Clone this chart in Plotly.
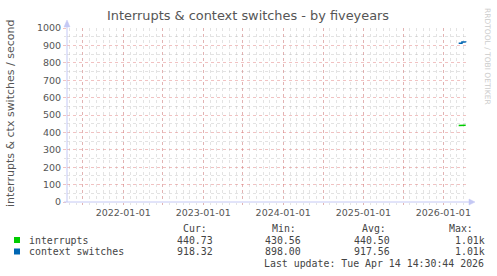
import plotly.graph_objects as go

# ---- data ----
int_dates = ["2026-03-12", "2026-03-20", "2026-03-28", "2026-04-05", "2026-04-13"]
int_values = [439.0, 440.0, 441.0, 440.0, 440.7]
ctx_dates = ["2026-03-12", "2026-03-20", "2026-03-27", "2026-04-05", "2026-04-13"]
ctx_values = [912.0, 913.0, 919.0, 920.0, 918.3]

series_names = ["interrupts", "context switches"]
series_colors = ["#00CC00", "#0066B3"]
cur_vals = ["440.73", "918.32"]
min_vals = ["430.56", "898.00"]
avg_vals = ["440.50", "917.56"]
max_vals = ["1.01k", "1.01k"]

x_tickvals = ["2021-07-01", "2022-01-01", "2022-07-01", "2023-01-01", "2023-07-01",
              "2024-01-01", "2024-07-01", "2025-01-01", "2025-07-01", "2026-01-01"]
x_ticktext = ["", "2022-01-01", "", "2023-01-01", "", "2024-01-01", "", "2025-01-01", "", "2026-01-01"]
x_range = ["2021-04-19", "2026-04-19"]
y_range = [0, 1000]

title = "Interrupts & context switches - by fiveyears"
y_title = "interrupts & ctx switches / second"
last_update = "Last update: Tue Apr 14 14:30:44 2026"
watermark = "RRDTOOL / TOBI OETIKER"

# ---- layout geometry (pixels) ----
W, H = 497, 276
L, R, T, B = 67, 467, 28, 202


def px(x):
    return (x - L) / (R - L)


def py(y):
    return (B - y) / (B - T)


fig = go.Figure()
fig.add_trace(go.Scatter(x=int_dates, y=int_values, mode="lines",
                         line=dict(color=series_colors[0], width=1.5), name=series_names[0]))
fig.add_trace(go.Scatter(x=ctx_dates, y=ctx_values, mode="lines", line_shape="hv",
                         line=dict(color=series_colors[1], width=1.5), name=series_names[1]))

MAJ = "rgba(225,120,120,0.45)"
MIN = "rgba(175,175,175,0.35)"
AX = "#c4c8f4"
TXT = "#555555"

fig.update_layout(
    width=W, height=H,
    margin=dict(l=L, r=W - R, t=T, b=H - B),
    paper_bgcolor="white", plot_bgcolor="white",
    showlegend=False,
    font=dict(family="DejaVu Sans", size=9.5, color=TXT),
    xaxis=dict(
        type="date", range=x_range, tickvals=x_tickvals, ticktext=x_ticktext,
        showgrid=True, gridcolor=MAJ, griddash="dot", gridwidth=1,
        ticks="outside", ticklen=2, tickcolor=MAJ,
        minor=dict(dtick="M1", tick0="2021-01-01", showgrid=True, gridcolor=MIN,
                   griddash="dot", gridwidth=1, ticks="outside", ticklen=2, tickcolor=MIN),
        showline=False, zeroline=False,
        tickfont=dict(size=9.5, color=TXT, family="DejaVu Sans"),
        fixedrange=True,
    ),
    yaxis=dict(
        range=y_range, dtick=100, tick0=0,
        showgrid=True, gridcolor=MAJ, griddash="dot", gridwidth=1,
        ticks="outside", ticklen=3, tickcolor=MAJ,
        minor=dict(dtick=50, showgrid=True, gridcolor=MIN, griddash="dot", gridwidth=1,
                   ticks="outside", ticklen=2, tickcolor=MIN),
        showline=False, zeroline=False,
        tickfont=dict(size=9.5, color=TXT, family="DejaVu Sans"),
        fixedrange=True,
    ),
)

shapes = []
# axis lines
shapes.append(dict(type="line", xref="paper", yref="paper", x0=px(L), x1=px(L), y0=py(B), y1=py(22),
                   line=dict(color=AX, width=1)))
shapes.append(dict(type="line", xref="paper", yref="paper", x0=px(L - 3), x1=px(472), y0=py(B), y1=py(B),
                   line=dict(color=AX, width=1)))


def tri(points):
    d = "M " + " L ".join(f"{px(a)},{py(b)}" for a, b in points) + " Z"
    return dict(type="path", xref="paper", yref="paper", path=d,
                fillcolor=AX, line=dict(color=AX, width=0.5))


shapes.append(tri([(64, 27), (70, 27), (67, 20)]))
shapes.append(tri([(469, B - 3), (469, B + 3), (475, B)]))

ann = []
ann.append(dict(text=title, x=px(248), y=py(15), xref="paper", yref="paper", showarrow=False,
                xanchor="center", yanchor="middle", font=dict(size=12.9, color=TXT, family="DejaVu Sans")))
ann.append(dict(text=y_title, x=px(11), y=py(114), xref="paper", yref="paper", showarrow=False,
                textangle=-90, xanchor="center", yanchor="middle",
                font=dict(size=11, color=TXT, family="DejaVu Sans")))
ann.append(dict(text=watermark, x=px(488), y=py(56), xref="paper", yref="paper", showarrow=False,
                textangle=90, xanchor="center", yanchor="middle",
                font=dict(size=7.5, color="#cccccc", family="DejaVu Sans")))

MONO = "DejaVu Sans Mono"
LT = "#444444"
FS = 9.9


def txt(s, x, y):
    ann.append(dict(text=s, x=px(x), y=py(y), xref="paper", yref="paper", showarrow=False,
                    xanchor="left", yanchor="middle", font=dict(size=FS, color=LT, family=MONO)))


row_y = [240, 251.5]
txt("Cur:", 181, 228)
txt("Min:", 270, 228)
txt("Avg:", 360, 228)
txt("Max:", 446.7, 228)
for i in range(2):
    y = row_y[i]
    shapes.append(dict(type="rect", xref="paper", yref="paper",
                       x0=px(14), x1=px(20), y0=py(y - 3), y1=py(y + 3),
                       fillcolor=series_colors[i], line=dict(color=series_colors[i], width=0)))
    txt(series_names[i], 26.7, y)
    txt(cur_vals[i], 175, y)
    txt(min_vals[i], 263.3, y)
    txt(avg_vals[i], 351.7, y)
    txt(max_vals[i], 453.3, y)
txt(last_update, 261.7, 263)

fig.update_layout(annotations=ann, shapes=shapes)
fig.write_html("out.html")
